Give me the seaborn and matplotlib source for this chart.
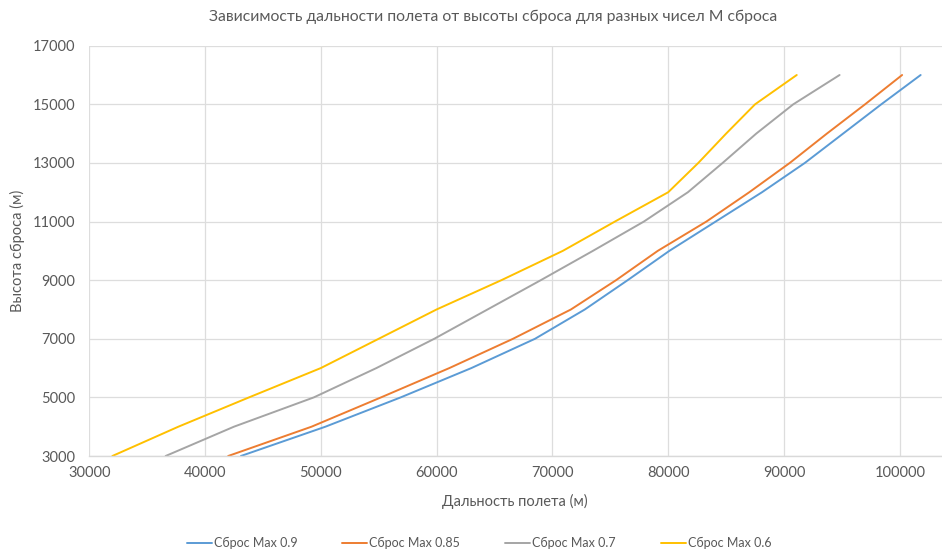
import matplotlib
matplotlib.use("Agg")
import matplotlib.pyplot as plt
import seaborn as sns
import pandas as pd

# Drop heights (m)
heights = [3000, 4000, 5000, 6000, 7000, 8000, 9000, 10000,
           11000, 12000, 13000, 14000, 15000, 16000]

# Flight range (m) for each release Mach number
range_m09 = [43100, 50400, 56900, 63000, 68500, 72800, 76500, 80100,
             84100, 88100, 91800, 95100, 98400, 101800]
range_m085 = [42000, 49200, 55200, 61100, 66600, 71600, 75500, 79100,
              83300, 87000, 90500, 93700, 97000, 100200]
range_m07 = [36600, 42500, 49400, 54800, 59800, 64400, 69000, 73500,
             77900, 81700, 84700, 87600, 90800, 94800]
range_m06 = [32000, 37700, 43800, 50000, 55000, 60000, 65600, 70900,
             75400, 80000, 82600, 85000, 87500, 91100]

series_names = ["Сброс Max 0.9", "Сброс Max 0.85", "Сброс Max 0.7", "Сброс Max 0.6"]
series_values = [range_m09, range_m085, range_m07, range_m06]
colors = ["#5B9BD5", "#ED7D31", "#A5A5A5", "#FFC000"]

title = "Зависимость дальности полета от высоты сброса для разных чисел М сброса"
x_label = "Дальность полета (м)"
y_label = "Высота сброса (м)"
x_ticks = [30000, 40000, 50000, 60000, 70000, 80000, 90000, 100000]
y_ticks = [3000, 5000, 7000, 9000, 11000, 13000, 15000, 17000]

frames = []
for name, vals in zip(series_names, series_values):
    frames.append(pd.DataFrame({"range": vals, "height": heights, "series": name}))
df = pd.concat(frames, ignore_index=True)

sns.set_theme(style="white")
plt.rcParams["font.family"] = ["Lato", "DejaVu Sans"]

W, H = 942, 551
fig = plt.figure(figsize=(W / 100, H / 100), dpi=100)
left, right, top, bottom = 89.2, 942, 45.7, 456
ax = fig.add_axes([left / W, (H - bottom) / H, (right - left) / W, (bottom - top) / H])

sns.lineplot(data=df, x="range", y="height", hue="series", hue_order=series_names,
             palette=colors, sort=False, estimator=None, linewidth=1.4, ax=ax,
             legend=False)

ax.set_xlim(30000, 30000 + (right - left) / 115.8 * 10000)
ax.set_ylim(3000, 17000)
ax.set_xticks(x_ticks)
ax.set_yticks(y_ticks)
ax.set_xticklabels([str(t) for t in x_ticks])
ax.set_yticklabels([str(t) for t in y_ticks])
ax.grid(True, color="#DDDDDD", linewidth=0.9)
ax.set_axisbelow(True)
for s in ["top", "right", "left"]:
    ax.spines[s].set_visible(False)
ax.spines["bottom"].set_color("#D9D9D9")
ax.spines["bottom"].set_linewidth(1.0)
ax.tick_params(axis="both", length=0, labelsize=10.5, labelcolor="#595959")
ax.tick_params(axis="y", pad=10)
ax.tick_params(axis="x", pad=7)

ax.set_xlabel("")
ax.set_ylabel("")
fig.text(515 / W, 1 - 501 / H, x_label, ha="center", va="center",
         fontsize=10.5, color="#595959")
fig.text(17 / W, 1 - 251 / H, y_label, ha="center", va="center",
         rotation=90, fontsize=10.5, color="#595959")
fig.text(493 / W, 1 - 17 / H, title, ha="center", va="center",
         fontsize=11.3, color="#595959")

handles = [plt.Line2D([0], [0], color=c, linewidth=1.4) for c in colors]
fig.legend(handles, series_names, loc="center", ncol=4,
           bbox_to_anchor=(479 / W, 1 - 543 / H), frameon=False,
           fontsize=9.0, labelcolor="#595959", handlelength=2.0,
           handletextpad=0.15, columnspacing=3.6)

fig.savefig("out.png", dpi=100, facecolor="white")
